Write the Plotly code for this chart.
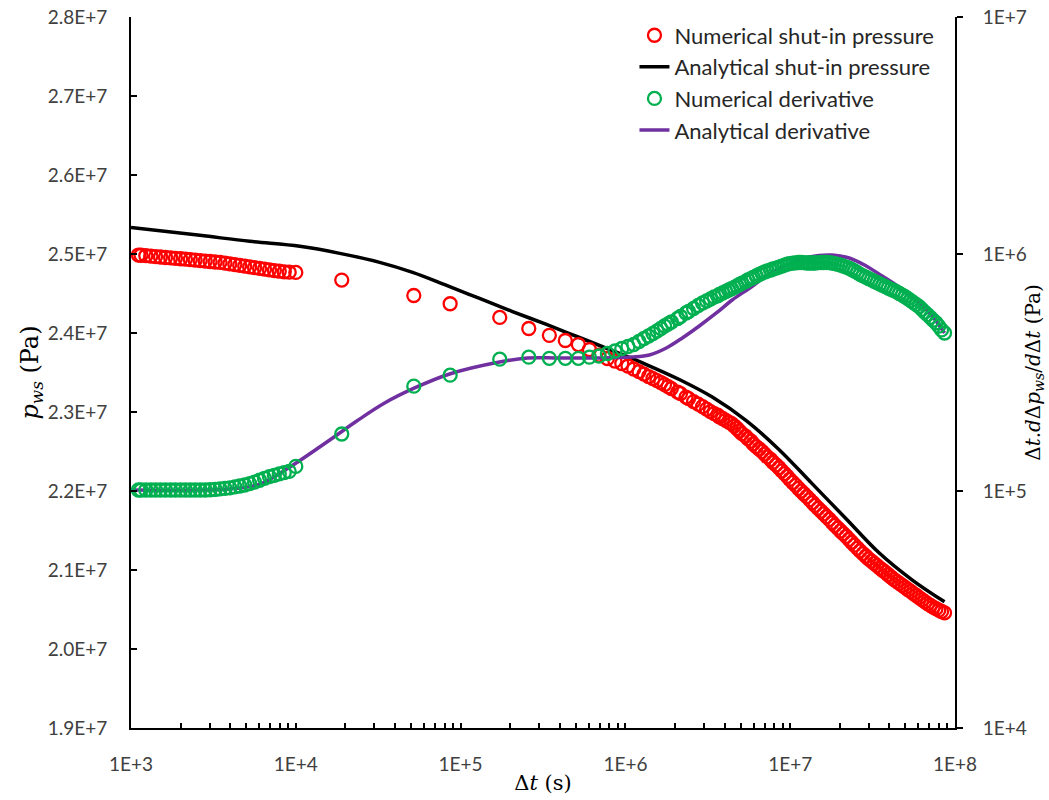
import plotly.graph_objects as go

# ---------------- data ----------------
# Numerical data: time (s) for the early and intermediate records
NUM_T_EARLY_S = [1110, 1150, 1230, 1320, 1410, 1510, 1620, 1740, 1860, 2000,
                 2140, 2290, 2450, 2630, 2820, 3020, 3240, 3470, 3720, 3980,
                 4270, 4570, 4900, 5250, 5620, 6030, 6460, 6920, 7410, 7940,
                 8510, 9120,
                 10000, 19000, 52000, 86400, 172800, 259200, 345600, 432000,
                 518400, 604800]
# Later records are daily: time in days
NUM_T_LATE_DAYS = [8, 9, 10, 11, 12, 13, 14, 15, 16, 17, 18, 19, 20, 21, 22,
                   24, 25, 27, 28, 30, 32, 34, 36, 38,
                   40, 42, 43, 45, 47, 49, 51, 53, 55, 57,
                   59, 62, 64, 67, 69, 72, 75, 78, 81, 84,
                   88, 91, 95, 99, 103, 107, 111, 115, 120, 125,
                   130, 135, 140, 146, 152, 158, 164, 171, 178, 185,
                   192, 200, 208, 216, 225, 234, 243, 253, 263, 273,
                   284, 296, 307, 320, 333, 346, 360, 374, 389, 405,
                   421, 438, 455, 473, 492, 512, 532, 554, 576, 599,
                   623, 648, 674, 701, 729, 758, 788, 820, 852, 887,
                   922, 959, 1000]

# Numerical shut-in pressure (MPa)
NUM_P_EARLY_MPA = [24.987, 24.984, 24.979, 24.973, 24.967, 24.962, 24.956, 24.951, 24.945, 24.940,
                   24.934, 24.929, 24.923, 24.917, 24.911, 24.905, 24.899, 24.893, 24.884, 24.875,
                   24.866, 24.856, 24.846, 24.836, 24.827, 24.817, 24.808, 24.799, 24.790, 24.782,
                   24.775, 24.770,
                   24.767, 24.670, 24.475, 24.370, 24.197, 24.057, 23.970, 23.905,
                   23.854, 23.790]
NUM_P_LATE_MPA = [23.721, 23.677, 23.645, 23.613, 23.582, 23.544, 23.512, 23.480, 23.449, 23.423,
                  23.398, 23.373, 23.347, 23.322, 23.297,
                  23.252, 23.233, 23.189, 23.170, 23.132, 23.100, 23.068, 23.037, 23.005,
                  22.980, 22.959, 22.939, 22.918, 22.894, 22.871, 22.852, 22.823, 22.791, 22.759,
                  22.726, 22.695, 22.663, 22.631, 22.597, 22.561, 22.532, 22.501, 22.466, 22.433,
                  22.399, 22.364, 22.330, 22.294, 22.255, 22.221, 22.185, 22.148, 22.108, 22.072,
                  22.032, 21.999, 21.965, 21.928, 21.891, 21.854, 21.819, 21.779, 21.745, 21.710,
                  21.676, 21.640, 21.601, 21.564, 21.529, 21.494, 21.460, 21.425, 21.387, 21.351,
                  21.314, 21.276, 21.243, 21.208, 21.174, 21.141, 21.112, 21.085, 21.056, 21.024,
                  20.997, 20.971, 20.940, 20.911, 20.882, 20.856, 20.830, 20.805, 20.779, 20.753,
                  20.729, 20.702, 20.677, 20.651, 20.625, 20.600, 20.574, 20.553, 20.530, 20.510,
                  20.492, 20.475, 20.458]

# Numerical derivative (Pa)
NUM_D_EARLY = [1.01e5, 1.01e5, 1.01e5, 1.01e5, 1.01e5, 1.01e5, 1.01e5, 1.01e5, 1.01e5, 1.01e5,
               1.01e5, 1.01e5, 1.01e5, 1.01e5, 1.01e5, 1.012e5, 1.015e5, 1.02e5, 1.025e5, 1.03e5,
               1.04e5, 1.05e5, 1.06e5, 1.075e5, 1.09e5, 1.11e5, 1.13e5, 1.15e5, 1.165e5, 1.18e5,
               1.195e5, 1.21e5,
               1.27e5, 1.74e5, 2.77e5, 3.08e5, 3.60e5, 3.67e5, 3.63e5, 3.63e5,
               3.63e5, 3.67e5]
NUM_D_LATE = [3.712e5, 3.804e5, 3.897e5, 3.993e5, 4.071e5, 4.151e5, 4.274e5, 4.401e5, 4.509e5, 4.620e5,
              4.733e5, 4.850e5, 4.969e5, 5.066e5, 5.166e5,
              5.344e5, 5.449e5, 5.638e5, 5.720e5, 5.889e5, 6.064e5, 6.213e5, 6.335e5, 6.459e5,
              6.587e5, 6.657e5, 6.761e5, 6.847e5, 6.948e5, 7.050e5, 7.133e5, 7.231e5, 7.336e5, 7.437e5,
              7.539e5, 7.649e5, 7.770e5, 7.869e5, 7.968e5, 8.078e5, 8.196e5, 8.300e5, 8.398e5, 8.480e5,
              8.562e5, 8.646e5, 8.722e5, 8.807e5, 8.892e5, 8.980e5, 9.057e5, 9.110e5, 9.146e5, 9.171e5,
              9.207e5, 9.207e5, 9.198e5, 9.162e5, 9.162e5, 9.162e5, 9.162e5, 9.190e5, 9.207e5, 9.207e5,
              9.207e5, 9.190e5, 9.154e5, 9.101e5, 9.039e5, 8.980e5, 8.892e5, 8.807e5, 8.722e5, 8.604e5,
              8.480e5, 8.340e5, 8.203e5, 8.085e5, 7.983e5, 7.876e5, 7.777e5, 7.672e5, 7.576e5, 7.473e5,
              7.379e5, 7.278e5, 7.180e5, 7.090e5, 7.000e5, 6.921e5, 6.814e5, 6.710e5, 6.600e5, 6.479e5,
              6.355e5, 6.232e5, 6.112e5, 5.994e5, 5.839e5, 5.688e5, 5.546e5, 5.402e5, 5.257e5, 5.126e5,
              4.960e5, 4.783e5, 4.642e5]

# Analytical shut-in pressure
ANA_P_T = [1000, 2620, 5260, 10570, 18490, 32280, 51170, 82200, 130300, 206500,
           331900, 526000, 833700, 1.340e6, 2.124e6, 3.366e6, 5.410e6, 8.57e6, 1.358e7, 2.183e7,
           3.459e7, 5.483e7, 8.64e7]
ANA_P_MPA = [25.337, 25.236, 25.160, 25.097, 25.008, 24.894, 24.767, 24.602, 24.437, 24.272,
             24.108, 23.943, 23.778, 23.601, 23.411, 23.189, 22.891, 22.523, 22.093, 21.649,
             21.218, 20.876, 20.597]

# Analytical derivative
ANA_D_T = [1000, 2620, 3981, 6053, 8820, 10280, 16070, 23440, 34590, 52600,
           85700, 172200, 254500, 398100, 695300, 1.102e6, 1.397e6, 1.771e6, 2.215e6, 2.807e6,
           3.565e6, 4.449e6, 5.804e6, 7.155e6, 9.86e6, 1.303e7, 1.798e7, 2.28e7, 2.891e7, 3.613e7,
           4.387e7, 5.806e7, 7.262e7, 8.64e7]
ANA_D = [1.010e5, 1.010e5, 1.020e5, 1.070e5, 1.238e5, 1.326e5, 1.641e5, 1.974e5, 2.351e5, 2.721e5,
         3.117e5, 3.502e5, 3.641e5, 3.641e5, 3.641e5, 3.676e5, 3.749e5, 4.013e5, 4.422e5, 4.969e5,
         5.638e5, 6.397e5, 7.258e5, 8.078e5, 9.076e5, 9.712e5, 9.904e5, 9.619e5, 8.904e5, 8.078e5,
         7.400e5, 6.397e5, 5.475e5, 4.642e5]

X_TICKVALS = [1e3, 1e4, 1e5, 1e6, 1e7, 1e8]
X_TICKTEXT = ["1E+3", "1E+4", "1E+5", "1E+6", "1E+7", "1E+8"]
Y_TICKVALS = [1.9e7, 2.0e7, 2.1e7, 2.2e7, 2.3e7, 2.4e7, 2.5e7, 2.6e7, 2.7e7, 2.8e7]
Y_TICKTEXT = ["1.9E+7", "2.0E+7", "2.1E+7", "2.2E+7", "2.3E+7", "2.4E+7", "2.5E+7",
              "2.6E+7", "2.7E+7", "2.8E+7"]
Y2_TICKVALS = [1e4, 1e5, 1e6, 1e7]
Y2_TICKTEXT = ["1E+4", "1E+5", "1E+6", "1E+7"]

# ---------------- derived arrays ----------------
SECONDS_PER_DAY = 86400
num_t = NUM_T_EARLY_S + [d * SECONDS_PER_DAY for d in NUM_T_LATE_DAYS]
num_p = [v * 1e6 for v in NUM_P_EARLY_MPA + NUM_P_LATE_MPA]
num_d = NUM_D_EARLY + NUM_D_LATE
ana_p = [v * 1e6 for v in ANA_P_MPA]

RED = "#FF0000"
BLACK = "#000000"
GREEN = "#00B050"
PURPLE = "#7030A0"
SANS = "Lato, 'Open Sans', sans-serif"
SERIF = "'DejaVu Serif', 'Liberation Serif', serif"
TICK_FONT = dict(family=SANS, size=19, color="#404040")

fig = go.Figure()

fig.add_trace(go.Scatter(
    x=ANA_P_T, y=ana_p, mode="lines", name="Analytical shut-in pressure",
    line=dict(color=BLACK, width=3.5, shape="spline", smoothing=1.0),
    legendrank=2, yaxis="y"))
fig.add_trace(go.Scatter(
    x=num_t, y=num_p, mode="markers", name="Numerical shut-in pressure",
    marker=dict(symbol="circle-open", size=13, color=RED, line=dict(width=2.3, color=RED)),
    legendrank=1, yaxis="y"))
fig.add_trace(go.Scatter(
    x=ANA_D_T, y=ANA_D, mode="lines", name="Analytical derivative",
    line=dict(color=PURPLE, width=3.5, shape="spline", smoothing=1.0),
    legendrank=4, yaxis="y2"))
fig.add_trace(go.Scatter(
    x=num_t, y=num_d, mode="markers", name="Numerical derivative",
    marker=dict(symbol="circle-open", size=13, color=GREEN, line=dict(width=2.3, color=GREEN)),
    legendrank=3, yaxis="y2"))

fig.update_layout(
    width=1049, height=800,
    margin=dict(l=131, r=94, t=17, b=72, autoexpand=False),
    paper_bgcolor="white", plot_bgcolor="white",
    showlegend=True,
    legend=dict(x=0.611, y=1.0036, xanchor="left", yanchor="top",
                font=dict(family=SANS, size=22, color="#262626"),
                bgcolor="rgba(0,0,0,0)", tracegroupgap=0, itemwidth=30),
    xaxis=dict(type="log", range=[3, 8], showgrid=False, zeroline=False, automargin=False,
               showline=True, linecolor="black", linewidth=2,
               ticks="inside", ticklen=5, tickwidth=1.5, tickcolor="black",
               tickmode="array", tickvals=X_TICKVALS, ticktext=X_TICKTEXT, tickangle=0,
               minor=dict(ticks="inside", ticklen=5, tickwidth=1.5, tickcolor="black",
                          dtick="D1", showgrid=False),
               tickfont=TICK_FONT, ticklabelstandoff=18,
               title=dict(text="Δ<i>t</i> (s)", font=dict(family=SERIF, size=21, color="black"),
                          standoff=2)),
    yaxis=dict(range=[1.9e7, 2.8e7], showgrid=False, zeroline=False, automargin=False,
               showline=True, linecolor="black", linewidth=2,
               ticks="inside", ticklen=6, tickwidth=1.5, tickcolor="black",
               tickmode="array", tickvals=Y_TICKVALS, ticktext=Y_TICKTEXT,
               tickfont=TICK_FONT, ticklabelstandoff=18,
               title=dict(text="<i>p</i><sub><i>ws</i></sub> (Pa)",
                          font=dict(family=SERIF, size=24, color="black"), standoff=2)),
    yaxis2=dict(type="log", range=[4, 7], overlaying="y", side="right",
                showgrid=False, zeroline=False, automargin=False,
                showline=True, linecolor="black", linewidth=2,
                ticks="outside", ticklen=6, tickwidth=1.5, tickcolor="black",
                tickmode="array", tickvals=Y2_TICKVALS, ticktext=Y2_TICKTEXT,
                tickfont=TICK_FONT, ticklabelstandoff=16,
                title=dict(text="Δ<i>t</i>.<i>d</i>Δ<i>p</i><sub><i>ws</i></sub>/<i>d</i>Δ<i>t</i> (Pa)",
                           font=dict(family=SERIF, size=20, color="black"), standoff=0)),
)

fig.write_html("out.html")
